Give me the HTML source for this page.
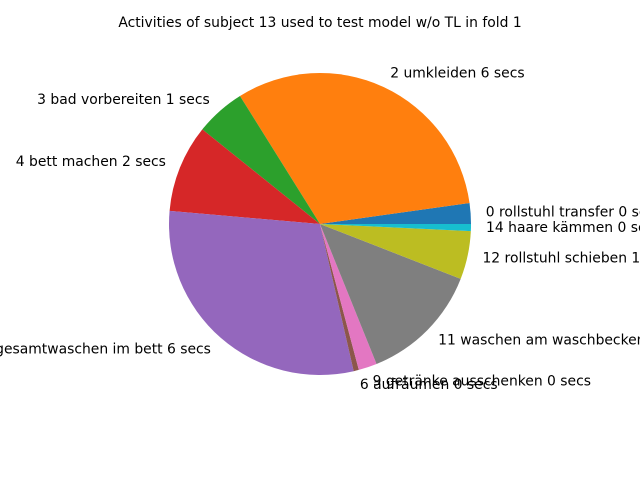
<!DOCTYPE html>
<html><head><meta charset="utf-8"><style>
html,body{margin:0;padding:0;background:#fff;}
svg{display:block;font-family:"DejaVu Sans","Liberation Sans",sans-serif;}
</style></head><body>
<svg id="chart" width="640" height="480" viewBox="0 0 640 480">
<rect width="640" height="480" fill="#fff"/>
<text x="320" y="27" text-anchor="middle" font-size="13.9">Activities of subject 13 used to test model w/o TL in fold 1</text>
<g id="slices"></g>
<g id="labels"></g>
</svg>
<script>
const categories = ["0 rollstuhl transfer 0 secs","2 umkleiden 6 secs","3 bad vorbereiten 1 secs","4 bett machen 2 secs","5 gesamtwaschen im bett 6 secs","6 aufräumen 0 secs","9 getränke ausschenken 0 secs","11 waschen am waschbecken 2 secs","12 rollstuhl schieben 1 secs","14 haare kämmen 0 secs"];
const values = [8, 114, 19.2, 33.8, 107.9, 2, 7.1, 46.7, 18.6, 2.7];
const colors = ["#1f77b4","#ff7f0e","#2ca02c","#d62728","#9467bd","#8c564b","#e377c2","#7f7f7f","#bcbd22","#17becf"];
const cx = 320, cy = 224, r = 151;
const NS = "http://www.w3.org/2000/svg";
const total = values.reduce((a,b)=>a+b,0);
const angleOf = v => v / total * 2 * Math.PI;
const px = a => cx + r * Math.cos(a), py = a => cy - r * Math.sin(a);
let start = 0;
const gS = document.getElementById("slices"), gL = document.getElementById("labels");
values.forEach((v,i)=>{
  const a = angleOf(v), end = start + a;
  const large = a > Math.PI ? 1 : 0;
  const p = document.createElementNS(NS,"path");
  p.setAttribute("d",`M${cx},${cy} L${px(start)},${py(start)} A${r},${r} 0 ${large} 0 ${px(end)},${py(end)} Z`);
  p.setAttribute("fill",colors[i]);
  
  
  gS.appendChild(p);
  const mid = (start+end)/2;
  const lx = cx + r*1.1*Math.cos(mid), ly = cy - r*1.1*Math.sin(mid);
  const t = document.createElementNS(NS,"text");
  t.setAttribute("x",lx); t.setAttribute("y",ly+4);
  t.setAttribute("font-size","13.9");
  t.setAttribute("text-anchor", Math.cos(mid) >= 0 ? "start" : "end");
  t.textContent = categories[i];
  
  
  gL.appendChild(t);
  start = end;
});
</script>
</body></html>
